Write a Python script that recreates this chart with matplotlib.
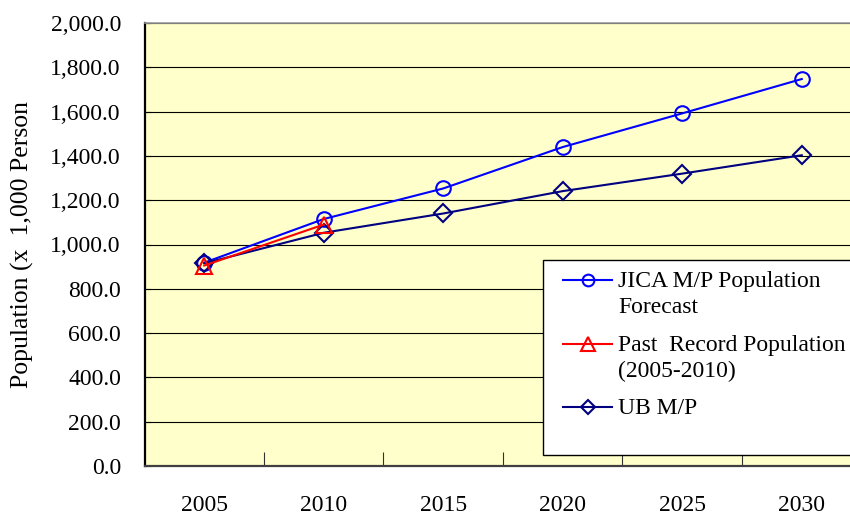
import matplotlib
matplotlib.use("Agg")
import matplotlib.pyplot as plt
from matplotlib.lines import Line2D
from matplotlib.patches import Rectangle
from matplotlib.ticker import FuncFormatter, FixedLocator

plt.rcParams['font.family'] = ['Liberation Serif', 'DejaVu Serif']

years = ['2005', '2010', '2015', '2020', '2025', '2030']
jica = [918, 1115, 1253, 1440, 1592, 1747]
past = [905, 1090]
ub = [915, 1053, 1140, 1241, 1320, 1403]

W, H = 850, 517
fig = plt.figure(figsize=(W / 100, H / 100), dpi=100)

# plot area runs a little past the right edge of the image
left, top, bottom = 144.5, 23, 466
width = 6 * 119.5
ax = fig.add_axes([left / W, 1 - bottom / H, width / W, (bottom - top) / H])
ax.set_facecolor('#FFFFCC')

x = list(range(len(years)))
ax.plot(x, jica, color='#0000FF', lw=1.5, marker='o', ms=10.5,
        mfc='none', mec='#0000FF', mew=1.5, zorder=3)
ax.plot(x[:len(past)], past, color='#FF0000', lw=1.5, marker='^', ms=12,
        mfc='none', mec='#FF0000', mew=1.5, zorder=4)
ax.plot(x, ub, color='#000080', lw=1.5, marker='D', ms=8.8,
        mfc='none', mec='#000080', mew=1.5, zorder=3)

ax.set_xlim(-0.5, 5.5)
ax.set_ylim(0, 2000)
ax.yaxis.set_major_locator(FixedLocator(range(0, 2001, 200)))
ax.yaxis.set_major_formatter(FuncFormatter(lambda v, p: f'{v:,.1f}'))
ax.grid(axis='y', color='black', lw=0.8)
ax.set_axisbelow(True)

ax.set_xticks(x)
ax.set_xticklabels(years)
ax.set_xticks([i + 0.5 for i in range(5)], minor=True)
ax.tick_params(axis='x', which='major', length=0, pad=21, labelsize=17)
ax.tick_params(axis='x', which='minor', direction='in', length=10,
               width=0.8, color='#333333')
ax.tick_params(axis='y', direction='in', length=4, width=0.8, pad=17,
               labelsize=17)

ax.set_ylabel('Population (x  1,000 Person', fontsize=18.5, labelpad=12)

ax.spines['left'].set_linewidth(1.6)
ax.spines['left'].set_color('black')
ax.spines['bottom'].set_linewidth(1.6)
ax.spines['bottom'].set_color('#404040')
ax.spines['top'].set_linewidth(1.2)
ax.spines['top'].set_color('#999999')
ax.spines['right'].set_visible(False)


def px(xp, yp):
    return xp / W, 1 - yp / H


# legend box
bx, by = px(543, 455)
fig.add_artist(Rectangle((bx, by), (870 - 543) / W, (455 - 260) / H,
                         transform=fig.transFigure, facecolor='white',
                         edgecolor='black', lw=1.0, zorder=5))

entries = [
    ('JICA M/P Population\nForecast', '#0000FF', 'o', 10.5, 280),
    ('Past  Record Population\n(2005-2010)', '#FF0000', '^', 12, 344),
    ('UB M/P', '#000080', 'D', 8.8, 407),
]
for label, col, mk, ms, yp in entries:
    x0, y0 = px(563, yp)
    x1, _ = px(612, yp)
    fig.add_artist(Line2D([x0, x1], [y0, y0], transform=fig.transFigure,
                          color=col, lw=1.5, zorder=6))
    fig.add_artist(Line2D([(x0 + x1) / 2], [y0], transform=fig.transFigure,
                          marker=mk, ms=ms * 0.8, mfc='none', mec=col,
                          mew=1.5, zorder=6))
    tx, ty = px(618, yp - 9)
    fig.text(tx, ty, label, fontsize=17, va='top', ha='left',
             linespacing=1.32, zorder=7)

fig.savefig('out.png', dpi=100)
